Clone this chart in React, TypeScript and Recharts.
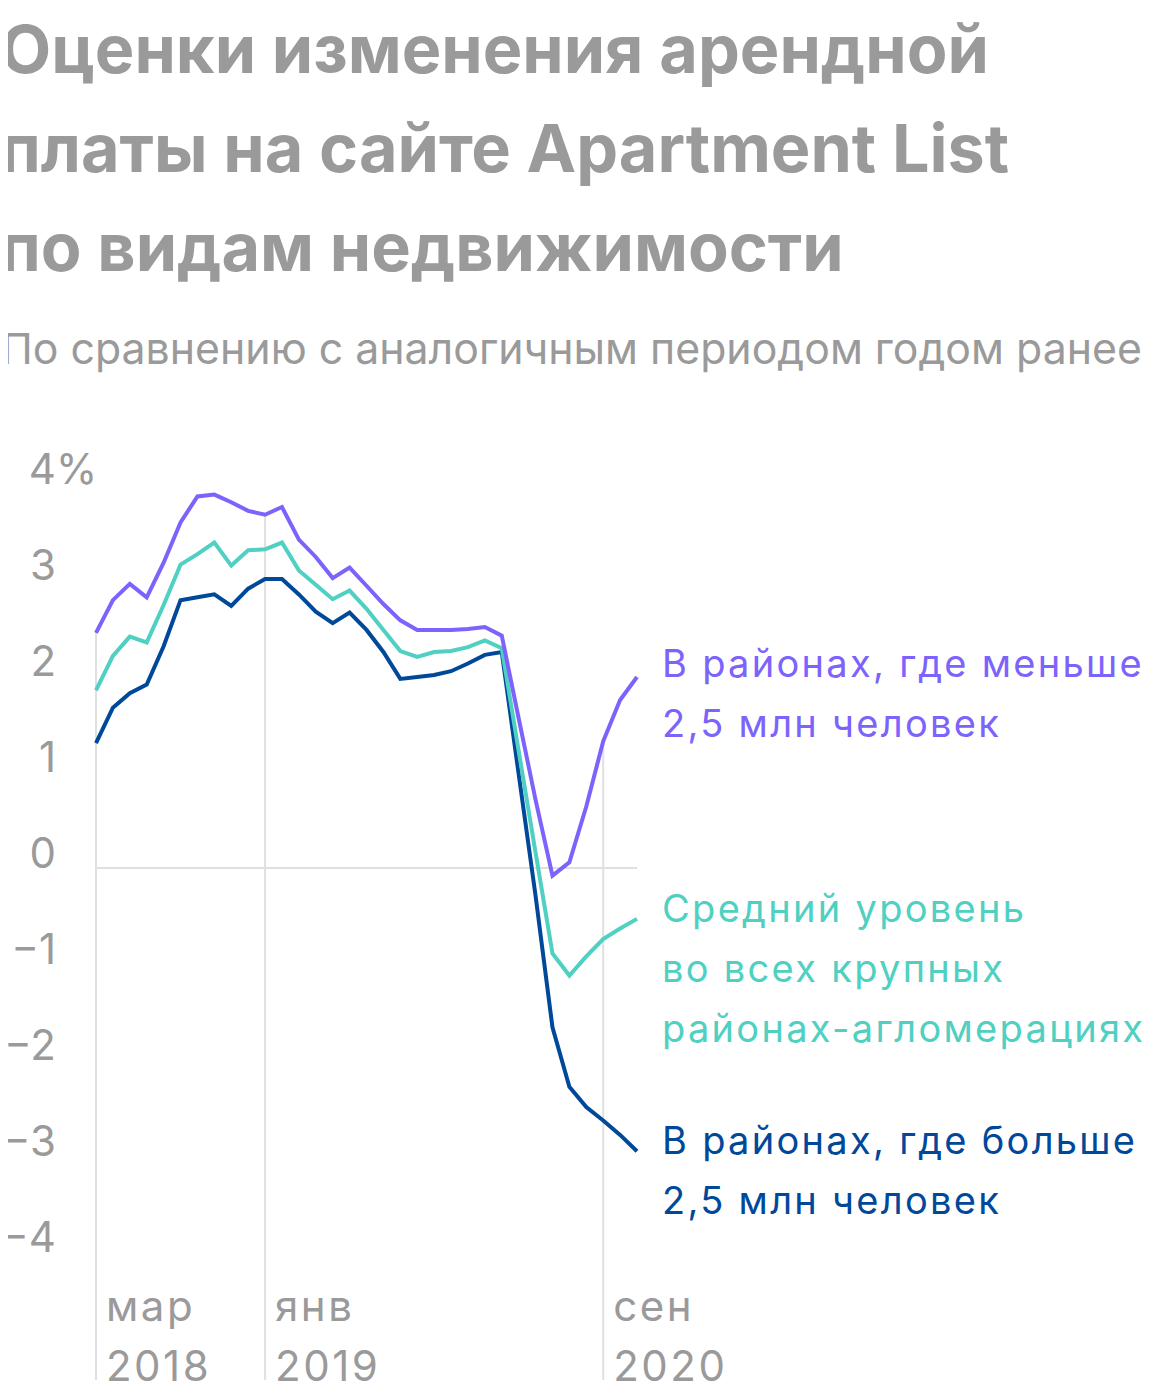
import React from 'react';
import { LineChart, Line, XAxis, YAxis, ReferenceLine } from 'recharts';

const months = [
  '2018-03', '2018-04', '2018-05', '2018-06', '2018-07', '2018-08', '2018-09', '2018-10', '2018-11', '2018-12',
  '2019-01', '2019-02', '2019-03', '2019-04', '2019-05', '2019-06', '2019-07', '2019-08', '2019-09', '2019-10',
  '2019-11', '2019-12', '2020-01', '2020-02', '2020-03', '2020-04', '2020-05', '2020-06', '2020-07', '2020-08',
  '2020-09', '2020-10', '2020-11',
];

// % change year over year
const smallMetros = [
  2.45, 2.79, 2.96, 2.82, 3.18, 3.6, 3.87, 3.89, 3.81, 3.72, 3.68, 3.76, 3.42, 3.24, 3.02, 3.13, 2.94,
  2.75, 2.58, 2.48, 2.48, 2.48, 2.49, 2.51, 2.42, 1.56, 0.71, -0.08, 0.06, 0.64, 1.32, 1.75, 1.99,
];
const allMetros = [
  1.85, 2.21, 2.41, 2.35, 2.74, 3.16, 3.27, 3.39, 3.15, 3.31, 3.32, 3.39, 3.1, 2.95, 2.8, 2.89, 2.7,
  2.48, 2.26, 2.2, 2.25, 2.26, 2.3, 2.37, 2.29, 1.22, 0.16, -0.89, -1.12, -0.92, -0.74, -0.63, -0.53,
];
const largeMetros = [
  1.3, 1.67, 1.82, 1.91, 2.31, 2.79, 2.82, 2.85, 2.73, 2.91, 3.01, 3.01, 2.85, 2.67, 2.55, 2.66, 2.48,
  2.25, 1.97, 1.99, 2.01, 2.05, 2.13, 2.22, 2.25, 0.98, -0.29, -1.66, -2.28, -2.49, -2.63, -2.78, -2.95,
];

const tickMonths = ['2018-03', '2019-01', '2020-09'];
const tickMonthNames = ['мар', 'янв', 'сен'];
const tickYears = ['2018', '2019', '2020'];
const yTicks = [-4, -3, -2, -1, 0, 1, 2, 3, 4];

const Y_MIN = -16 / 3;
const Y_MAX = 4.5;

const data = months.map((m, i) => ({
  i,
  month: m,
  small: smallMetros[i],
  all: allMetros[i],
  large: largeMetros[i],
}));

const tickIdx = tickMonths.map((m) => months.indexOf(m));

const GRAY = '#9a9a9a';
const PURPLE = '#7b63fb';
const TEAL = '#4fd0c2';
const NAVY = '#00489a';
const GRID = '#e0e0e0';
const FONT = 'Inter, "Noto Sans", sans-serif';

const YTick = ({ x, y, payload }: any) => {
  const v = payload.value;
  const label = v < 0 ? `\u2212${Math.abs(v)}` : `${v}`;
  return (
    <g>
      <text x={x} y={y} textAnchor="end" fill={GRAY} fontSize={42} fontFamily={FONT}>
        {label}
      </text>
      {v === 4 && (
        <text x={x} y={y} textAnchor="start" fill={GRAY} fontSize={42} fontFamily={FONT}>
          %
        </text>
      )}
    </g>
  );
};

const XTick = ({ x, y, payload }: any) => {
  const k = tickIdx.indexOf(payload.value);
  if (k < 0) return null;
  return (
    <g fill={GRAY} fontSize={42} fontFamily={FONT} letterSpacing={2.5}>
      <text x={x + 10} y={y - 59}>{tickMonthNames[k]}</text>
      <text x={x + 10} y={y + 1}>{tickYears[k]}</text>
    </g>
  );
};

const App: React.FC = () => {
  return (
    <div style={{ position: 'relative', width: 1160, height: 1400, margin: -8, background: '#fff' }}>
      <div style={{ position: 'absolute', left: 0, top: 0 }}>
        <LineChart
          width={1160}
          height={1400}
          data={data}
          margin={{ top: 436, right: 523, bottom: 0, left: 0 }}
        >
          <XAxis
            type="number"
            dataKey="i"
            domain={[0, months.length - 1]}
            ticks={tickIdx}
            height={20}
            axisLine={false}
            tickLine={false}
            tickSize={0}
            tickMargin={0}
            interval={0}
            tick={<XTick />}
          />
          <YAxis
            type="number"
            domain={[Y_MIN, Y_MAX]}
            ticks={yTicks}
            allowDataOverflow
            width={96}
            axisLine={false}
            tickLine={false}
            tickSize={0}
            tickMargin={40}
            interval={0}
            tick={<YTick />}
          />
          {tickIdx.map((t) => (
            <ReferenceLine
              key={t}
              segment={[{ x: t, y: smallMetros[t] }, { x: t, y: Y_MIN }]}
              stroke={GRID}
              strokeWidth={2}
            />
          ))}
          <ReferenceLine y={0} stroke={GRID} strokeWidth={2} />
          <Line type="linear" dataKey="large" stroke={NAVY} strokeWidth={4} dot={false} isAnimationActive={false} />
          <Line type="linear" dataKey="all" stroke={TEAL} strokeWidth={4} dot={false} isAnimationActive={false} />
          <Line type="linear" dataKey="small" stroke={PURPLE} strokeWidth={4} dot={false} isAnimationActive={false} />
        </LineChart>
      </div>
      <svg
        width={1160}
        height={1400}
        style={{ position: 'absolute', left: 0, top: 0, pointerEvents: 'none' }}
        fontFamily={FONT}
      >
        <g fill={GRAY} fontSize={66.5} fontWeight={700}>
          <text x={0} y={73}>Оценки изменения арендной</text>
          <text x={0} y={172}>платы на сайте Apartment List</text>
          <text x={0} y={271}>по видам недвижимости</text>
        </g>
        <text x={1} y={364} fill={GRAY} fontSize={42.8}>
          По сравнению с аналогичным периодом годом ранее
        </text>
        <g fontSize={38} letterSpacing={2.3}>
          <text x={662} y={677} fill={PURPLE}>В районах, где меньше</text>
          <text x={662} y={737} fill={PURPLE}>2,5 млн человек</text>
          <text x={662} y={922} fill={TEAL}>Средний уровень</text>
          <text x={662} y={982} fill={TEAL}>во всех крупных</text>
          <text x={662} y={1042} fill={TEAL}>районах-агломерациях</text>
          <text x={662} y={1154} fill={NAVY}>В районах, где больше</text>
          <text x={662} y={1214} fill={NAVY}>2,5 млн человек</text>
        </g>
      </svg>
    </div>
  );
};

export default App;
